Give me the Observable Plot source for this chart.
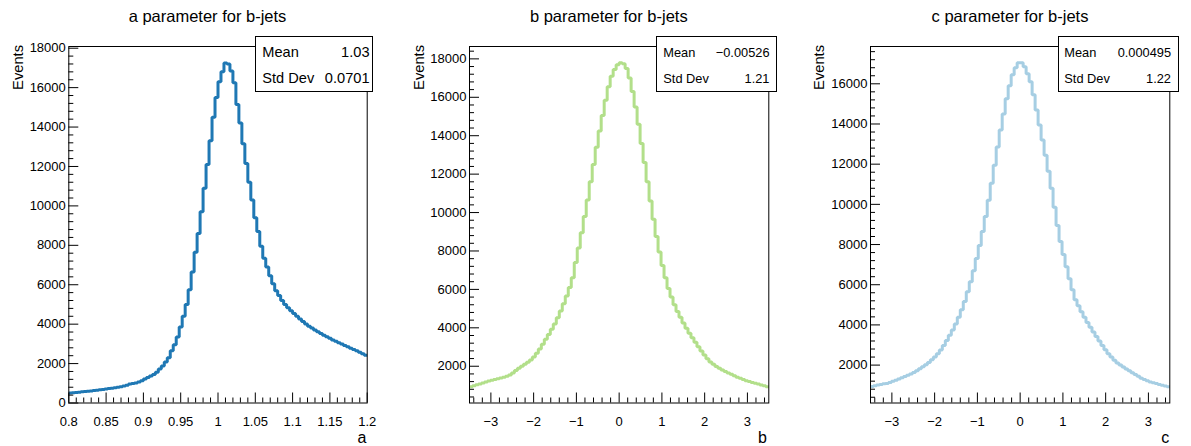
<!DOCTYPE html>
<html><head><meta charset="utf-8">
<script src="https://cdn.jsdelivr.net/npm/d3@7"></script>
<script src="https://cdn.jsdelivr.net/npm/@observablehq/plot@0.6"></script>
<style>
html,body{margin:0;padding:0;background:#fff;}
#wrap{position:relative;width:1191px;height:446px;overflow:hidden;background:#fff;}
#wrap svg{position:absolute;top:0;}
</style></head>
<body><div id="wrap"></div>
<script>
// ---------- data ----------
const titles = ["a parameter for b-jets", "b parameter for b-jets", "c parameter for b-jets"];
const xNames = ["a", "b", "c"];
const colors = ["#1f78b4", "#b2df8a", "#a6cee3"];
const ranges = [[0.8, 1.2], [-3.5, 3.5], [-3.5, 3.5]];
const statMean = ["1.03", "\u22120.00526", "0.000495"];
const statStd = ["0.0701", "1.21", "1.22"];

const aValues = [510,520,535,550,565,580,595,615,635,650,
670,690,710,730,750,775,800,830,860,900,
960,990,1010,1060,1130,1220,1300,1370,1440,1560,
1720,1880,2080,2300,2650,2950,3350,3850,4400,5000,
5750,6650,7650,8600,9700,10900,12100,13300,14500,15500,
16300,16800,17250,17200,16850,16250,15150,14200,13150,12150,
11200,10300,9400,8700,7950,7350,6900,6450,6050,5700,
5450,5200,5000,4830,4680,4540,4400,4260,4130,4010,
3900,3800,3700,3610,3520,3440,3360,3280,3200,3130,
3060,2990,2920,2850,2780,2710,2650,2580,2500,2420];

const bValues = [930,980,1030,1080,1130,1180,1230,1270,1310,1350,
1390,1430,1480,1550,1650,1780,1900,2000,2110,2210,
2330,2480,2680,2900,3150,3400,3650,3920,4200,4530,
4870,5250,5650,6100,6600,7400,8150,8950,9800,10650,
11600,12500,13400,14250,15050,15850,16550,17100,17450,17700,
17800,17750,17500,17000,16300,15500,14600,13600,12600,11600,
10600,9650,8750,7950,7250,6600,6050,5600,5200,4850,
4550,4250,3980,3720,3480,3250,3020,2790,2580,2390,
2220,2100,1990,1890,1800,1720,1650,1580,1500,1430,
1370,1310,1250,1210,1160,1110,1070,1020,980,930];

const cValues = [930,970,1010,1040,1070,1090,1140,1190,1250,1310,
1370,1430,1500,1560,1630,1720,1820,1920,2020,2130,
2260,2400,2560,2750,2970,3220,3480,3750,4050,4380,
4750,5170,5650,6150,6700,7300,7950,8650,9400,10200,
11050,11950,12850,13700,14500,15250,15900,16450,16800,17050,
17050,16850,16500,16100,15450,14700,13950,13200,12450,11650,
10800,9850,8950,8150,7500,6900,6300,5750,5250,4950,
4650,4380,4120,3880,3650,3420,3200,2970,2760,2570,
2400,2240,2110,2000,1900,1810,1720,1620,1530,1440,
1340,1280,1220,1160,1120,1080,1040,1000,960,920];

const aXTicks = [0.8,0.85,0.9,0.95,1,1.05,1.1,1.15,1.2];
const aXMinor = [0.81,0.82,0.83,0.84,0.86,0.87,0.88,0.89,0.91,0.92,0.93,0.94,0.96,0.97,0.98,0.99,1.01,1.02,1.03,1.04,1.06,1.07,1.08,1.09,1.11,1.12,1.13,1.14,1.16,1.17,1.18,1.19];
const bcXTicks = [-3,-2,-1,0,1,2,3];
const bcXMinor = [-3.4,-3.2,-2.8,-2.6,-2.4,-2.2,-1.8,-1.6,-1.4,-1.2,-0.8,-0.6,-0.4,-0.2,0.2,0.4,0.6,0.8,1.2,1.4,1.6,1.8,2.2,2.4,2.6,2.8,3.2,3.4];
const yTicks = [0,2000,4000,6000,8000,10000,12000,14000,16000,18000];
const yMinorStep = 400;

const series = [aValues, bValues, cValues];
const xTicksList = [aXTicks, bcXTicks, bcXTicks];
const xMinorList = [aXMinor, bcXMinor, bcXMinor];

// ---------- layout ----------
const W = 397, H = 446, MT = 46, MB = 43.5;
const lefts = [0, 397, 794];
const margins = [[68.3, 30.3], [72, 25.7], [76, 21.7]];
const font = "'Liberation Sans', Arial, Helvetica, sans-serif";
const fmt = d => String(+d.toFixed(3)).replace("-", "\u2212");

const wrap = document.getElementById("wrap");

series.forEach((vals, k) => {
  const [xmin, xmax] = ranges[k];
  const n = vals.length, bw = (xmax - xmin) / n;
  const pts = vals.map((v, i) => ({x: xmin + i * bw, y: v}));
  pts.push({x: xmax, y: vals[n - 1]});
  const vmax = d3.max(vals), vmin = d3.min(vals);
  let ymin = vmin - 0.05 * (vmax - vmin);
  if (ymin < 0) ymin = 0;
  const ymax = vmax + 0.05 * (vmax - vmin);
  const [ml, mr] = margins[k];
  const fh = H - MT - MB, fw = W - ml - mr;
  const yMaj = yTicks.filter(t => t >= ymin - 1e-6 && t <= ymax);
  const yMin = d3.range(Math.ceil(ymin / yMinorStep), Math.floor(ymax / yMinorStep) + 1)
    .map(i => i * yMinorStep).filter(t => t % 2000 !== 0);
  const svg = Plot.plot({
    width: W, height: H,
    marginLeft: ml, marginRight: mr, marginTop: MT, marginBottom: MB,
    x: {domain: [xmin, xmax], label: null},
    y: {domain: [ymin, ymax], label: null},
    style: {fontFamily: font, fontSize: "13px", color: "#000", background: "transparent"},
    marks: [
      Plot.line(pts, {x: "x", y: "y", curve: "step-after", stroke: colors[k], strokeWidth: 3,
        strokeLinejoin: "miter", strokeLinecap: "butt"}),
      Plot.tickX(xMinorList[k], {x: d => d, insetTop: fh - 5, stroke: "#000"}),
      Plot.tickX(xTicksList[k], {x: d => d, insetTop: fh - 10, stroke: "#000"}),
      Plot.tickY(yMin, {y: d => d, insetRight: fw - 5, stroke: "#000"}),
      Plot.tickY(yMaj, {y: d => d, insetRight: fw - 10, stroke: "#000"}),
      Plot.axisX(xTicksList[k], {tickSize: 0, tickPadding: 14, tickFormat: fmt, fontSize: 13, label: null}),
      Plot.axisY(yMaj, {tickSize: 0, tickPadding: 3, tickFormat: d => String(d), fontSize: 13, label: null}),
      Plot.frame({stroke: "#000", strokeWidth: 1})
    ]
  });
  svg.style.left = lefts[k] + "px";
  wrap.appendChild(svg);
});

// ---------- annotations overlay ----------
const ov = d3.select(wrap).append("svg")
  .attr("width", 1191).attr("height", 446)
  .style("left", "0px").style("font-family", font);

const titleX = [207.5, 608.8, 1010];
titles.forEach((t, k) => {
  ov.append("text").attr("x", titleX[k]).attr("y", 21.5).attr("text-anchor", "middle")
    .attr("font-size", 16.5).text(t);
});
const evX = [23.3, 424, 824];
evX.forEach(x => {
  ov.append("text").attr("transform", `translate(${x},45) rotate(-90)`)
    .attr("text-anchor", "end").attr("font-size", 14.7).text("Events");
});
const xlabX = [366.5, 767, 1169.3];
xNames.forEach((t, k) => {
  ov.append("text").attr("x", xlabX[k]).attr("y", 443).attr("text-anchor", "end")
    .attr("font-size", 16).text(t);
});
const boxes = [
  {x: 255.5, w: 117, fs: 14.6, tx: 262.3, vx: 369.5},
  {x: 656.5, w: 120, fs: 12.8, tx: 663.3, vx: 769.5},
  {x: 1058.5, w: 120, fs: 12.8, tx: 1064.3, vx: 1171}
];
boxes.forEach((b, k) => {
  ov.append("rect").attr("x", b.x).attr("y", 36.5).attr("width", b.w).attr("height", 55)
    .attr("fill", "#fff").attr("stroke", "#000").attr("stroke-width", 1);
  ov.append("text").attr("x", b.tx).attr("y", 56.7).attr("font-size", b.fs).text("Mean");
  ov.append("text").attr("x", b.vx).attr("y", 56.7).attr("font-size", b.fs).attr("text-anchor", "end").text(statMean[k]);
  ov.append("text").attr("x", b.tx).attr("y", 83.3).attr("font-size", b.fs).text("Std Dev");
  ov.append("text").attr("x", b.vx).attr("y", 83.3).attr("font-size", b.fs).attr("text-anchor", "end").text(statStd[k]);
});
</script>
</body></html>
